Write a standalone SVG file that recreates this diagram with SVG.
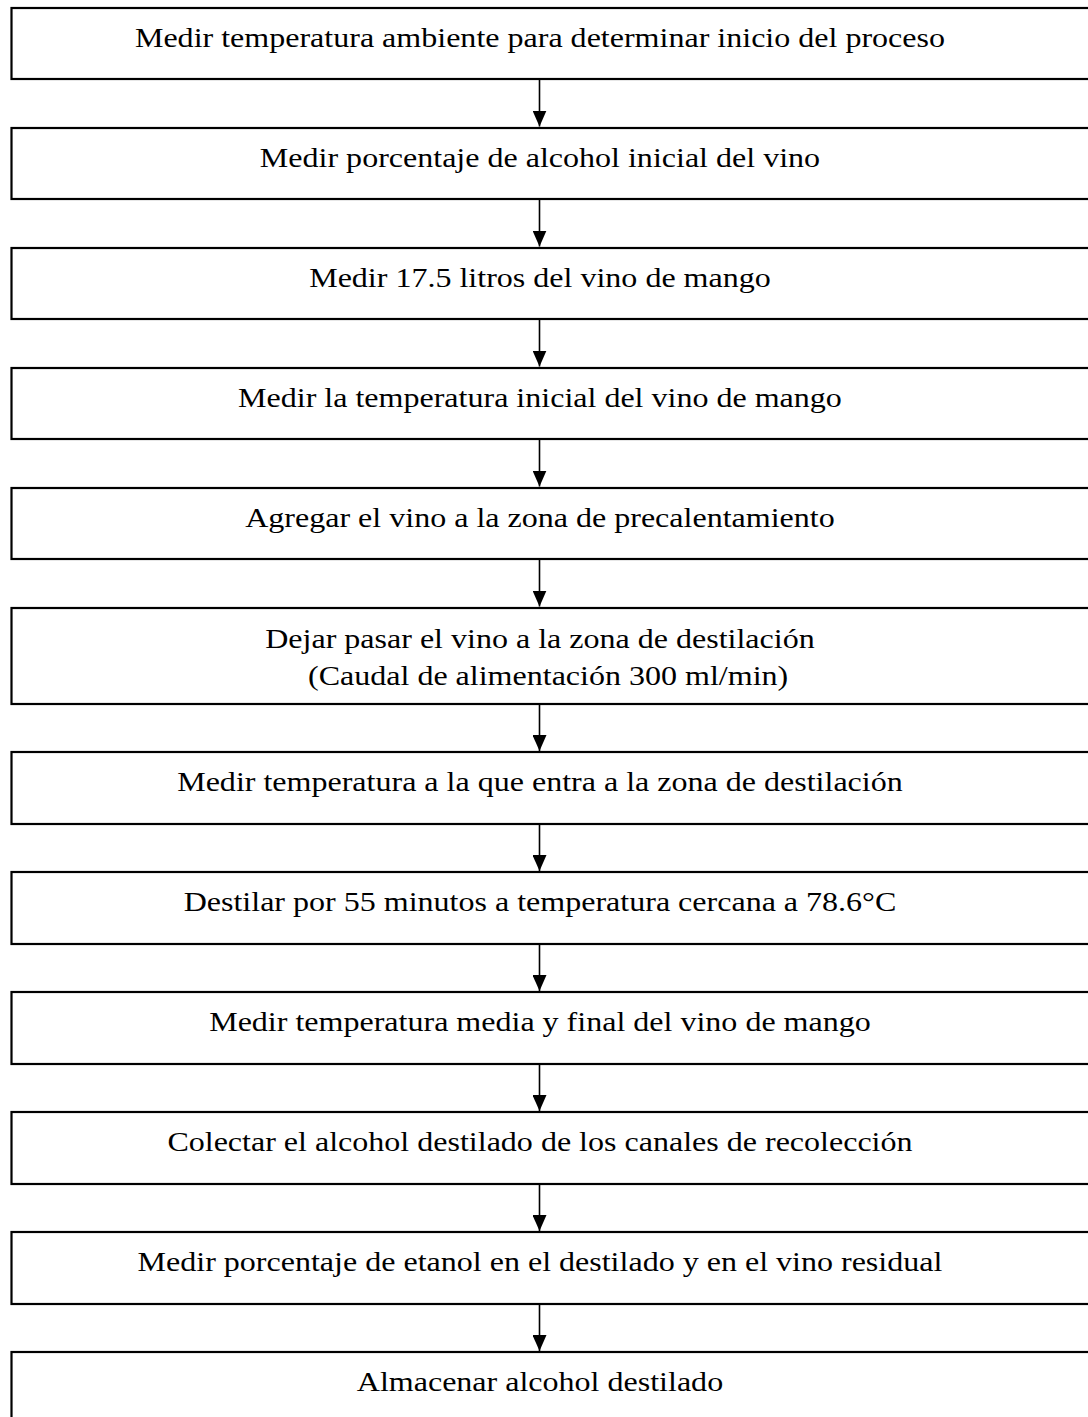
<svg xmlns="http://www.w3.org/2000/svg" width="1088" height="1417" viewBox="0 0 1088 1417">
<style>
.box{fill:#fff;stroke:#000;stroke-width:2.2}
.t{font-family:"Liberation Serif","Times New Roman",serif;font-size:27.5px;fill:#000;text-anchor:middle}
.c{stroke:#000;stroke-width:1.6;fill:none}
</style>
<defs>
<marker id="ah" markerUnits="userSpaceOnUse" markerWidth="16" markerHeight="14" refX="16" refY="7" orient="auto" viewBox="0 0 16 14">
<path d="M0,0 L16,7 L0,14 Z" fill="#000"/>
</marker>
</defs>
<rect width="1088" height="1417" fill="#fff"/>
<g id="connectors">
<line class="c" x1="539.5" y1="79" x2="539.5" y2="126.5" marker-end="url(#ah)"/>
<line class="c" x1="539.5" y1="199" x2="539.5" y2="246.5" marker-end="url(#ah)"/>
<line class="c" x1="539.5" y1="319" x2="539.5" y2="366.5" marker-end="url(#ah)"/>
<line class="c" x1="539.5" y1="439" x2="539.5" y2="486.5" marker-end="url(#ah)"/>
<line class="c" x1="539.5" y1="559" x2="539.5" y2="606.5" marker-end="url(#ah)"/>
<line class="c" x1="539.5" y1="704" x2="539.5" y2="751" marker-end="url(#ah)"/>
<line class="c" x1="539.5" y1="824" x2="539.5" y2="871" marker-end="url(#ah)"/>
<line class="c" x1="539.5" y1="944" x2="539.5" y2="991" marker-end="url(#ah)"/>
<line class="c" x1="539.5" y1="1064" x2="539.5" y2="1111" marker-end="url(#ah)"/>
<line class="c" x1="539.5" y1="1184" x2="539.5" y2="1231" marker-end="url(#ah)"/>
<line class="c" x1="539.5" y1="1304" x2="539.5" y2="1351" marker-end="url(#ah)"/>
</g>
<g id="n1"><rect class="box" x="11.5" y="8" width="1100" height="71"/><text class="t" transform="scale(1.165,1)" x="463.5" y="47">Medir temperatura ambiente para determinar inicio del proceso</text></g>
<g id="n2"><rect class="box" x="11.5" y="128" width="1100" height="71"/><text class="t" transform="scale(1.165,1)" x="463.5" y="167">Medir porcentaje de alcohol inicial del vino</text></g>
<g id="n3"><rect class="box" x="11.5" y="248" width="1100" height="71"/><text class="t" transform="scale(1.165,1)" x="463.5" y="287">Medir 17.5 litros del vino de mango</text></g>
<g id="n4"><rect class="box" x="11.5" y="368" width="1100" height="71"/><text class="t" transform="scale(1.165,1)" x="463.5" y="407">Medir la temperatura inicial del vino de mango</text></g>
<g id="n5"><rect class="box" x="11.5" y="488" width="1100" height="71"/><text class="t" transform="scale(1.165,1)" x="463.5" y="527">Agregar el vino a la zona de precalentamiento</text></g>
<g id="n6"><rect class="box" x="11.5" y="608" width="1100" height="96"/><text class="t" transform="scale(1.165,1)" x="463.5" y="648">Dejar pasar el vino a la zona de destilación</text><text class="t" transform="scale(1.165,1)" x="470.5" y="685">(Caudal de alimentación 300 ml/min)</text></g>
<g id="n7"><rect class="box" x="11.5" y="752" width="1100" height="72"/><text class="t" transform="scale(1.165,1)" x="463.5" y="791">Medir temperatura a la que entra a la zona de destilación</text></g>
<g id="n8"><rect class="box" x="11.5" y="872" width="1100" height="72"/><text class="t" transform="scale(1.165,1)" x="463.5" y="911">Destilar por 55 minutos a temperatura cercana a 78.6°C</text></g>
<g id="n9"><rect class="box" x="11.5" y="992" width="1100" height="72"/><text class="t" transform="scale(1.165,1)" x="463.5" y="1031">Medir temperatura media y final del vino de mango</text></g>
<g id="n10"><rect class="box" x="11.5" y="1112" width="1100" height="72"/><text class="t" transform="scale(1.165,1)" x="463.5" y="1151">Colectar el alcohol destilado de los canales de recolección</text></g>
<g id="n11"><rect class="box" x="11.5" y="1232" width="1100" height="72"/><text class="t" transform="scale(1.165,1)" x="463.5" y="1271">Medir porcentaje de etanol en el destilado y en el vino residual</text></g>
<g id="n12"><rect class="box" x="11.5" y="1352" width="1100" height="72"/><text class="t" transform="scale(1.165,1)" x="463.5" y="1391">Almacenar alcohol destilado</text></g>
</svg>
